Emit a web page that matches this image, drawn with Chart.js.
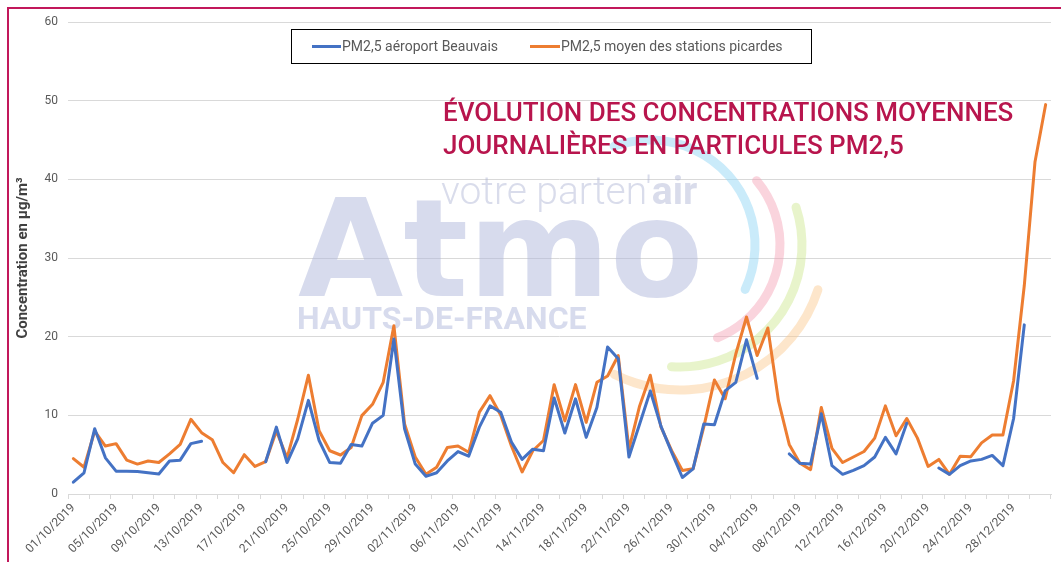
<!DOCTYPE html>
<html>
<head>
<meta charset="utf-8">
<script src="https://cdn.jsdelivr.net/npm/chart.js@4.4.1/dist/chart.umd.min.js"></script>
<style>
  html, body { margin: 0; padding: 0; background: #fff; }
  #wrap { position: relative; width: 1061px; height: 562px; overflow: hidden; }
  #frame { position: absolute; left: 7px; top: 7px; width: 1200px; height: 700px;
           border-left: 2px solid #c2185b; border-top: 2px solid #c2185b; }
  #title { position: absolute; left: 443px; top: 96px; font: 500 26px Roboto; line-height: 33px;
           color: #b8154d; white-space: nowrap; }
  canvas { position: absolute; left: 0; top: 0; }
</style>
</head>
<body>
<div id="wrap">
  <canvas id="chart" width="1061" height="562"></canvas>
  <div id="frame"></div>
  <div id="title">ÉVOLUTION DES CONCENTRATIONS MOYENNES<br>JOURNALIÈRES EN PARTICULES PM2,5</div>
</div>
<script>
// one category per day, 01/10/2019 -> 31/12/2019
const days = [];
for (let d = new Date(2019, 9, 1); d <= new Date(2019, 11, 31); d.setDate(d.getDate() + 1)) {
  days.push(String(d.getDate()).padStart(2, '0') + '/' + String(d.getMonth() + 1).padStart(2, '0') + '/2019');
}

const beauvais = [1.5, 2.7, 8.3, 4.6, 2.9, 2.9, 2.85, 2.7, 2.55, 4.2, 4.3, 6.4, 6.7,
  null, null, null, null, null,
  4.1, 8.5, 4.0, 7.0, 11.9, 6.8, 4.0, 3.9, 6.3, 6.1, 9.0, 10.0, 19.7, 8.3, 3.8, 2.25, 2.7, 4.2,
  5.4, 4.8, 8.5, 11.2, 10.4, 6.6, 4.4, 5.7, 5.5, 12.2, 7.75, 12.1, 7.2, 11.0, 18.7, 17.2, 4.7,
  8.9, 13.1, 8.6, 5.3, 2.1, 3.2, 8.9, 8.8, 13.1, 14.2, 19.6, 14.7,
  null, null,
  5.1, 3.9, 3.8, 10.2, 3.6, 2.5, 3.0, 3.6, 4.7, 7.2, 5.1, 9.0,
  null, null,
  3.3, 2.5, 3.6, 4.2, 4.4, 4.9, 3.6, 9.6, 21.5,
  null, null];

const picardie = [4.5, 3.4, 8.0, 6.1, 6.4, 4.3, 3.8, 4.2, 4.0, 5.1,
  6.3, 9.5, 7.8, 6.9, 4.0, 2.7, 5.0, 3.5, 4.1, 8.0,
  4.6, 9.5, 15.1, 8.05, 5.5, 4.96, 5.9, 9.96, 11.4, 14.2,
  21.4, 8.9, 4.7, 2.5, 3.4, 5.9, 6.1, 5.3, 10.4, 12.5,
  10.0, 6.1, 2.8, 5.5, 6.8, 13.9, 9.3, 13.9, 9.1, 14.2,
  15.0, 17.6, 5.7, 11.2, 15.1, 8.5, 5.5, 3.0, 3.2, 8.5,
  14.5, 12.1, 17.8, 22.5, 17.6, 21.1, 11.8, 6.3, 3.9, 3.1,
  11.0, 5.8, 4.0, 4.7, 5.4, 7.1, 11.2, 7.4, 9.6, 7.1,
  3.5, 4.4, 2.5, 4.8, 4.75, 6.5, 7.5, 7.5, 14.4, 26.5,
  42.2, 49.5];

const seriesNames = ['PM2,5 aéroport Beauvais', 'PM2,5 moyen des stations picardes'];
const yMax = 60, yStep = 10;

// faint "Atmo Hauts-de-France" watermark behind the lines, and the boxed legend
const decor = {
  id: 'decor',
  beforeDatasetsDraw(chart) {
    const c = chart.ctx;
    c.save();
    const arcs = [
      { cx: 650, cy: 245, r: 105, from: -110, to: 25, color: 'rgba(150,215,245,0.5)' },
      { cx: 680, cy: 245, r: 100, from: -40, to: 68, color: 'rgba(245,160,180,0.45)' },
      { cx: 680, cy: 245, r: 122, from: -18, to: 94, color: 'rgba(205,230,140,0.45)' },
      { cx: 680, cy: 245, r: 145, from: 18, to: 117, color: 'rgba(250,200,140,0.45)' }
    ];
    c.lineWidth = 9;
    c.lineCap = 'round';
    arcs.forEach(a => {
      c.beginPath();
      c.strokeStyle = a.color;
      c.arc(a.cx, a.cy, a.r, a.from * Math.PI / 180, a.to * Math.PI / 180);
      c.stroke();
    });
    c.textBaseline = 'alphabetic';
    c.fillStyle = 'rgba(175,183,220,0.5)';
    c.font = 'bold 136px "DejaVu Sans"';
    c.fillText('Atmo', 298, 296);
    c.font = 'bold 32px Roboto';
    c.fillText('HAUTS-DE-FRANCE', 297, 329);
    c.fillStyle = 'rgba(170,178,210,0.45)';
    c.font = '300 39px Roboto';
    c.fillText("votre parten'", 441, 204);
    const w = c.measureText("votre parten'").width;
    c.font = 'bold 39px Roboto';
    c.fillText('air', 441 + w, 204);
    c.restore();
  },
  afterDraw(chart) {
    const c = chart.ctx;
    c.save();
    c.fillStyle = '#fff';
    c.fillRect(292, 30, 519, 33);
    c.strokeStyle = '#000';
    c.lineWidth = 1;
    c.strokeRect(291.5, 29.5, 520, 34);
    const items = [{ x: 312, len: 29 }, { x: 530, len: 30 }];
    c.font = '14px Roboto';
    c.textBaseline = 'middle';
    c.fillStyle = '#595959';
    chart.data.datasets.forEach((ds, i) => {
      const it = items[i];
      c.strokeStyle = ds.borderColor;
      c.lineWidth = 3;
      c.beginPath();
      c.moveTo(it.x, 46.5);
      c.lineTo(it.x + it.len, 46.5);
      c.stroke();
      c.fillText(ds.label, it.x + it.len + 1, 47);
    });
    c.restore();
  }
};

new Chart(document.getElementById('chart'), {
  type: 'line',
  data: {
    labels: days,
    datasets: [
      { label: seriesNames[0], data: beauvais, borderColor: '#4472c4', backgroundColor: '#4472c4' },
      { label: seriesNames[1], data: picardie, borderColor: '#ed7d31', backgroundColor: '#ed7d31' }
    ]
  },
  options: {
    responsive: false,
    animation: false,
    devicePixelRatio: 1,
    layout: { padding: { left: 10, top: 22, right: 10, bottom: 0 } },
    elements: {
      point: { radius: 0 },
      line: { borderWidth: 3, tension: 0, borderJoinStyle: 'round', borderCapStyle: 'round' }
    },
    plugins: { legend: { display: false }, tooltip: { enabled: false } },
    scales: {
      x: {
        offset: true,
        grid: {
          offset: true,
          drawOnChartArea: false,
          tickLength: 5,
          color: ctx => (ctx.index === undefined || ctx.index % 2 === 0) ? '#d9d9d9' : 'rgba(0,0,0,0)'
        },
        border: { color: '#d9d9d9' },
        ticks: {
          autoSkip: false,
          minRotation: 45,
          maxRotation: 45,
          padding: 2,
          color: '#595959',
          font: { family: 'Roboto', size: 12 },
          callback: (v, i) => i % 4 === 0 ? days[i] : ''
        },
        afterFit: s => { s.height = 68; }
      },
      y: {
        min: 0,
        max: yMax,
        ticks: { stepSize: yStep, padding: 10, color: '#595959', font: { family: 'Roboto', size: 12 } },
        grid: { drawTicks: false, color: '#d9d9d9' },
        border: { display: false },
        title: {
          display: true,
          text: 'Concentration en µg/m³',
          color: '#404040',
          font: { family: 'Roboto', size: 15, weight: 'bold' }
        },
        afterFit: s => { s.width = 58; }
      }
    }
  },
  plugins: [decor]
});
</script>
</body>
</html>
